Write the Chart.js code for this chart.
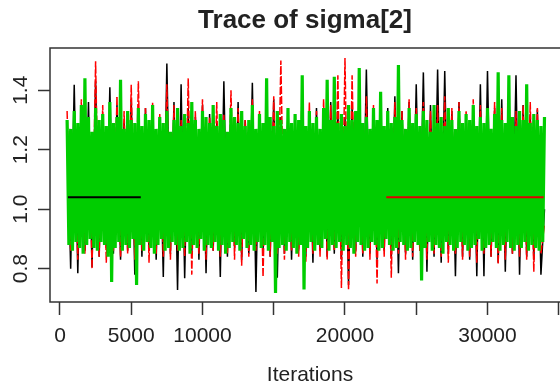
<!DOCTYPE html>
<html>
<head>
<meta charset="utf-8">
<script src="https://cdn.jsdelivr.net/npm/chart.js@4"></script>
<style>
  html, body { margin: 0; padding: 0; background: #fff; overflow: hidden; }
  canvas { display: block; }
</style>
</head>
<body>
<canvas id="trace" width="580" height="391"></canvas>
<script>
// MCMC trace, three chains, thinned
const ITER_START = 500;
const ITER_STEP = 250;        // black and red chains
const ITER_STEP_GREEN = 125;  // green chain, drawn on top, kept denser

const chainBlack = [
  1.30, 0.80, 1.418, 0.785, 1.33, 0.86, 1.36, 0.805, 1.43, 0.84,
  1.32, 0.87, 1.41, 0.85, 1.35, 0.83, 1.29, 0.86, 1.37, 0.78,
  1.31, 0.84, 1.34, 0.86, 1.33, 0.83, 1.30, 0.772, 1.49, 0.85,
  1.36, 0.728, 1.42, 0.768, 1.34, 0.85, 1.31, 0.83, 1.35, 0.785,
  1.32, 0.86, 1.29, 0.772, 1.43, 0.84, 1.33, 0.87, 1.36, 0.83,
  1.30, 0.85, 1.425, 0.722, 1.32, 0.86, 1.34, 0.84, 1.37, 0.77,
  1.31, 0.85, 1.33, 0.83, 1.29, 0.86, 1.35, 0.84, 1.32, 0.82,
  1.34, 0.86, 1.30, 0.84, 1.36, 0.85, 1.33, 0.83, 1.31, 0.745,
  1.35, 0.86, 1.33, 0.84, 1.47, 0.85, 1.32, 0.83, 1.37, 0.86,
  1.34, 0.84, 1.38, 0.785, 1.33, 0.85, 1.36, 0.83, 1.42, 0.86,
  1.46, 0.79, 1.35, 0.84, 1.47, 0.82, 1.465, 0.85, 1.33, 0.775,
  1.36, 0.84, 1.32, 0.83, 1.35, 0.775, 1.42, 0.775, 1.465, 0.84,
  1.34, 0.82, 1.37, 0.79, 1.33, 0.85, 1.45, 0.78, 1.35, 0.84,
  1.32, 0.83, 1.335, 0.78, 1.00
];

const chainRed = [
  1.33, 0.86, 1.29, 0.83, 1.37, 0.85, 1.31, 0.80, 1.497, 0.84,
  1.35, 0.82, 1.30, 0.86, 1.38, 0.84, 1.33, 0.85, 1.418, 0.83,
  1.43, 0.86, 1.34, 0.82, 1.36, 0.85, 1.32, 0.84, 1.42, 0.83,
  1.35, 0.86, 1.30, 0.84, 1.44, 0.78, 1.33, 0.85, 1.37, 0.83,
  1.31, 0.86, 1.36, 0.84, 1.32, 0.85, 1.40, 0.83, 1.34, 0.81,
  1.30, 0.84, 1.37, 0.86, 1.33, 0.772, 1.35, 0.84, 1.38, 0.85,
  1.50, 0.83, 1.34, 0.86, 1.31, 0.84, 1.43, 0.82, 1.36, 0.85,
  1.33, 0.84, 1.37, 0.83, 1.35, 0.86, 1.45, 0.735, 1.508, 0.728,
  1.45, 0.84, 1.34, 0.85, 1.38, 0.83, 1.35, 0.75, 1.36, 0.84,
  1.32, 0.77, 1.36, 0.85, 1.33, 0.83, 1.37, 0.84, 1.34, 0.86,
  1.36, 0.83, 1.33, 0.85, 1.35, 0.84, 1.38, 0.82, 1.34, 0.85,
  1.36, 0.83, 1.33, 0.84, 1.37, 0.82, 1.35, 0.85, 1.33, 0.84,
  1.36, 0.815, 1.34, 0.83, 1.38, 0.85, 1.33, 0.84, 1.35, 0.83,
  1.36, 0.79, 1.34, 0.85, 0.95
];

const chainGreen = [
  1.30, 0.88, 1.27, 0.86, 1.33, 0.89, 1.29, 0.87, 1.35, 0.85,
  1.44, 0.88, 1.31, 0.90, 1.26, 0.87, 1.34, 0.86, 1.30, 0.89,
  1.32, 0.88, 1.28, 0.84, 1.36, 0.755, 1.29, 0.87, 1.31, 0.89,
  1.435, 0.86, 1.27, 0.88, 1.33, 0.87, 1.30, 0.90, 1.29, 0.745,
  1.34, 0.88, 1.28, 0.86, 1.32, 0.89, 1.30, 0.87, 1.35, 0.85,
  1.27, 0.88, 1.31, 0.90, 1.29, 0.86, 1.33, 0.87, 1.26, 0.89,
  1.30, 0.88, 1.34, 0.86, 1.28, 0.87, 1.32, 0.89, 1.29, 0.85,
  1.36, 0.88, 1.30, 0.87, 1.27, 0.90, 1.33, 0.86, 1.31, 0.88,
  1.29, 0.87, 1.35, 0.89, 1.28, 0.86, 1.32, 0.88, 1.30, 0.85,
  1.26, 0.87, 1.34, 0.89, 1.31, 0.88, 1.29, 0.86, 1.33, 0.90,
  1.28, 0.87, 1.30, 0.88, 1.35, 0.86, 1.27, 0.89, 1.32, 0.87,
  1.29, 0.88, 1.44, 0.86, 1.31, 0.89, 1.28, 0.718, 1.33, 0.87,
  1.30, 0.88, 1.27, 0.86, 1.34, 0.89, 1.29, 0.87, 1.32, 0.85,
  1.30, 0.88, 1.45, 0.73, 1.28, 0.87, 1.33, 0.89, 1.29, 0.86,
  1.31, 0.88, 1.27, 0.87, 1.34, 0.90, 1.435, 0.86, 1.30, 0.88,
  1.445, 0.87, 1.29, 0.89, 1.32, 0.86, 1.28, 0.88, 1.35, 0.87,
  1.30, 0.85, 1.33, 0.89, 1.475, 0.88, 1.29, 0.86, 1.31, 0.87,
  1.27, 0.89, 1.34, 0.88, 1.30, 0.86, 1.395, 0.87, 1.28, 0.90,
  1.33, 0.88, 1.29, 0.86, 1.31, 0.87, 1.485, 0.89, 1.30, 0.88,
  1.27, 0.86, 1.34, 0.87, 1.29, 0.89, 1.32, 0.88, 1.28, 0.76,
  1.33, 0.87, 1.30, 0.89, 1.26, 0.86, 1.35, 0.88, 1.29, 0.87,
  1.31, 0.85, 1.28, 0.89, 1.34, 0.88, 1.30, 0.86, 1.27, 0.87,
  1.33, 0.89, 1.29, 0.88, 1.32, 0.86, 1.30, 0.87, 1.35, 0.88,
  1.28, 0.90, 1.31, 0.86, 1.29, 0.87, 1.34, 0.88, 1.27, 0.89,
  1.32, 0.87, 1.46, 0.86, 1.30, 0.88, 1.29, 0.89, 1.45, 0.87,
  1.31, 0.86, 1.28, 0.88, 1.33, 0.87, 1.30, 0.89, 1.42, 0.86,
  1.29, 0.88, 1.32, 0.87, 1.30, 0.86, 1.28, 0.89, 1.31
];

// flat stretches drawn over the traces
const flatLevel = 1.04;
const blackFlat = [560, 5670];
const redFlat = [22900, 33940];

const xTicks = [0, 5000, 10000, 15000, 20000, 25000, 30000, 35000];
const xLabelsShown = [0, 5000, 10000, 20000, 30000];
const yTicks = [0.8, 1.0, 1.2, 1.4];
const titleText = 'Trace of sigma[2]';

const FONT = '"Liberation Sans", Arial, sans-serif';
const INK = '#222';

const toPoints = (vals, step) => vals.map((v, i) => ({ x: ITER_START + i * step, y: v }));
const flatPoints = span => span.map(it => ({ x: it, y: flatLevel }));

// box, title and rotated y labels, R style
const rStyle = {
  id: 'rStyle',
  afterDraw(chart) {
    const { ctx, chartArea: a, scales: { y } } = chart;
    ctx.save();
    ctx.strokeStyle = '#333';
    ctx.lineWidth = 1.5;
    ctx.strokeRect(a.left, a.top, a.right - a.left, a.bottom - a.top);

    ctx.fillStyle = INK;
    ctx.textAlign = 'center';
    ctx.textBaseline = 'middle';
    ctx.font = 'bold 26px ' + FONT;
    ctx.fillText(titleText, 305, 21);

    ctx.font = '21px ' + FONT;
    yTicks.forEach(v => {
      ctx.save();
      ctx.translate(21, y.getPixelForValue(v));
      ctx.rotate(-Math.PI / 2);
      ctx.fillText(v.toFixed(1), 0, 0);
      ctx.restore();
    });
    ctx.restore();
  }
};

const line = (data, color, width, order, dash) => ({
  data, borderColor: color, borderWidth: width, order,
  borderDash: dash || [], pointRadius: 0, tension: 0, fill: false
});

new Chart(document.getElementById('trace'), {
  type: 'line',
  data: {
    datasets: [
      line(flatPoints(blackFlat), '#000', 2, 0),
      line(flatPoints(redFlat), '#e00000', 2, 0),
      line(toPoints(chainGreen, ITER_STEP_GREEN), '#00cd00', 3.2, 1),
      line(toPoints(chainRed, ITER_STEP), '#ff0000', 1.5, 2, [8, 2]),
      line(toPoints(chainBlack, ITER_STEP), '#000', 1.5, 3)
    ]
  },
  options: {
    responsive: false,
    animation: false,
    layout: { padding: { top: 48, right: 10, left: 0, bottom: 0 } },
    plugins: { legend: { display: false }, tooltip: { enabled: false }, title: { display: false } },
    scales: {
      x: {
        type: 'linear', min: -700, max: 35790,
        afterBuildTicks: s => { s.ticks = xTicks.map(v => ({ value: v })); },
        afterFit: s => { s.height = 89; },
        border: { display: false },
        grid: { drawOnChartArea: false, tickLength: 13, tickWidth: 1.5, tickColor: '#333' },
        ticks: {
          autoSkip: false, maxRotation: 0, padding: 9, color: INK,
          font: { family: FONT, size: 21 },
          callback: v => xLabelsShown.includes(v) ? String(v) : ''
        },
        title: {
          display: true, text: 'Iterations', color: INK,
          font: { family: FONT, size: 21 }, padding: { top: 0, bottom: 3 }
        }
      },
      y: {
        min: 0.688, max: 1.542,
        afterBuildTicks: s => { s.ticks = yTicks.map(v => ({ value: v })); },
        afterFit: s => { s.width = 50; },
        border: { display: false },
        grid: { drawOnChartArea: false, tickLength: 12, tickWidth: 1.5, tickColor: '#333' },
        ticks: { color: 'rgba(0,0,0,0)', font: { family: FONT, size: 21 } }
      }
    }
  },
  plugins: [rStyle]
});
</script>
</body>
</html>
